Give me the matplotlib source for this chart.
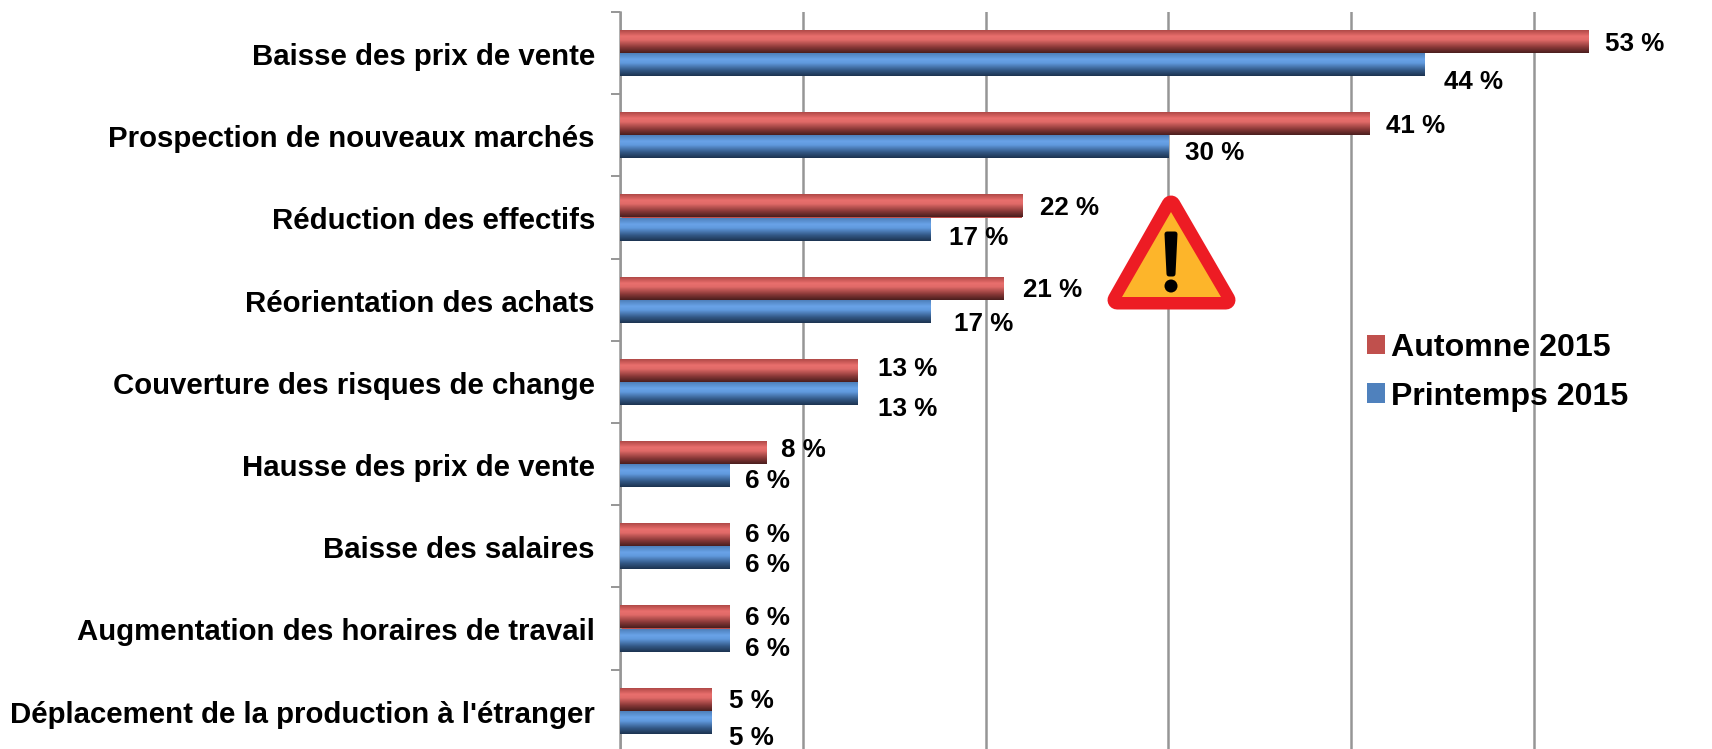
import numpy as np
import matplotlib
matplotlib.use("Agg")
import matplotlib.pyplot as plt
from matplotlib.colors import LinearSegmentedColormap
from matplotlib.patches import Patch, Polygon, Circle

plt.rcParams['font.family'] = ['Liberation Sans', 'DejaVu Sans']
plt.rcParams['font.weight'] = 'bold'

categories = ["Baisse des prix de vente", "Prospection de nouveaux marchés",
              "Réduction des effectifs", "Réorientation des achats",
              "Couverture des risques de change", "Hausse des prix de vente",
              "Baisse des salaires", "Augmentation des horaires de travail",
              "Déplacement de la production à l'étranger"]
automne = [53, 41, 22, 21, 13, 8, 6, 6, 5]
printemps = [44, 30, 17, 17, 13, 6, 6, 6, 5]
series_names = ["Automne 2015", "Printemps 2015"]

# label anchor positions (pixels in the 1712x749 frame)
label_x_a = [1605, 1386, 1040, 1023, 878, 781, 745, 745, 729]
label_y_a = [44, 126, 208, 290, 369, 450, 535, 618, 701]
label_x_p = [1444, 1185, 949, 954, 878, 745, 745, 745, 729]
label_y_p = [82, 153, 238, 324, 409, 481, 565, 649, 738]

W, H = 1712, 749
fig = plt.figure(figsize=(W / 100, H / 100), dpi=100, facecolor='white')
top, left, right = 12, 620, 1700
bottom = top + 9 * 82.2
ax = fig.add_axes([left / W, 1 - bottom / H, (right - left) / W, (bottom - top) / H])
n = len(categories)
GRID = '#969696'
ax.set_xticks(np.arange(0, 60, 10))
ax.set_xticklabels([])
ax.tick_params(axis='x', length=0)
ax.grid(axis='x', color=GRID, lw=1.8, zorder=0)
ax.set_axisbelow(True)
ax.set_yticks(np.arange(-0.5, n, 1))
ax.set_yticklabels([])
ax.tick_params(axis='y', length=6.5, width=1.4, color=GRID)
for s in ['top', 'right', 'bottom']:
    ax.spines[s].set_visible(False)
ax.spines['left'].set_color(GRID)
ax.spines['left'].set_linewidth(1.8)

cmap_r = LinearSegmentedColormap.from_list('r', [(0, '#a84442'), (.3, '#e96f6d'), (.45, '#e06a68'), (.75, '#8c3a39'), (1, '#4a1e1e')])
cmap_b = LinearSegmentedColormap.from_list('b', [(0, '#4a7ab4'), (.3, '#69a3e8'), (.45, '#619ade'), (.75, '#345a88'), (1, '#1c3350')])
h = 0.282
grad = np.linspace(0, 1, 64).reshape(-1, 1)
for vals, off, cmap, col in [(automne, -h / 2, cmap_r, '#c0504d'), (printemps, h / 2, cmap_b, '#4f81bd')]:
    bars = ax.barh(np.arange(n) + off, vals, height=h, color=col, zorder=2)
    for b, v, yy in zip(bars, vals, np.arange(n) + off):
        im = ax.imshow(grad, cmap=cmap, aspect='auto', zorder=3, interpolation='bilinear',
                       extent=(0, v, yy + h / 2, yy - h / 2))
        im.set_clip_path(b)
ax.set_xlim(0, (right - left) / 18.28)
ax.set_ylim(n - 0.5, -0.5)

# overlay in pixel coordinates for text and the warning sign
ov = fig.add_axes([0, 0, 1, 1], facecolor='none')
ov.set_xlim(0, W)
ov.set_ylim(H, 0)
ov.axis('off')

for i, c in enumerate(categories):
    ov.text(595, 53 + i * 82.2 + 4, c, ha='right', va='center', fontsize=21.15, color='black')
for v, x, y in zip(automne, label_x_a, label_y_a):
    ov.text(x, y, f"{v} %", ha='left', va='center', fontsize=18.7, color='black')
for v, x, y in zip(printemps, label_x_p, label_y_p):
    ov.text(x, y, f"{v} %", ha='left', va='center', fontsize=18.7, color='black')

# warning sign
ov.add_patch(Polygon([(1171, 205), (1117, 300), (1226, 300)], closed=True, fc='#ed1c24', ec='#ed1c24',
                     lw=19 * 0.72, joinstyle='round', zorder=5))
ov.add_patch(Polygon([(1171, 212), (1122, 297), (1221, 297)], closed=True, fc='#fdb52a', ec='none', zorder=6))
ov.add_patch(Polygon([(1167, 234), (1175, 234), (1173, 274), (1169, 274)], closed=True, fc='black', ec='black',
                     lw=5 * 0.72, joinstyle='round', zorder=7))
ov.add_patch(Circle((1171, 286), 6.5, fc='black', ec='none', zorder=7))

# legend
handles = [Patch(fc='#c0504d', label=series_names[0]), Patch(fc='#4f81bd', label=series_names[1])]
ov.legend(handles=handles, loc='upper left', bbox_to_anchor=(1367 / W, 1 - 333 / H), frameon=False,
          fontsize=23.1, handlelength=0.56, handleheight=0.56, handletextpad=0.18, labelspacing=0.58,
          borderpad=0, borderaxespad=0, labelcolor='black')

fig.savefig('out.png', dpi=100)
